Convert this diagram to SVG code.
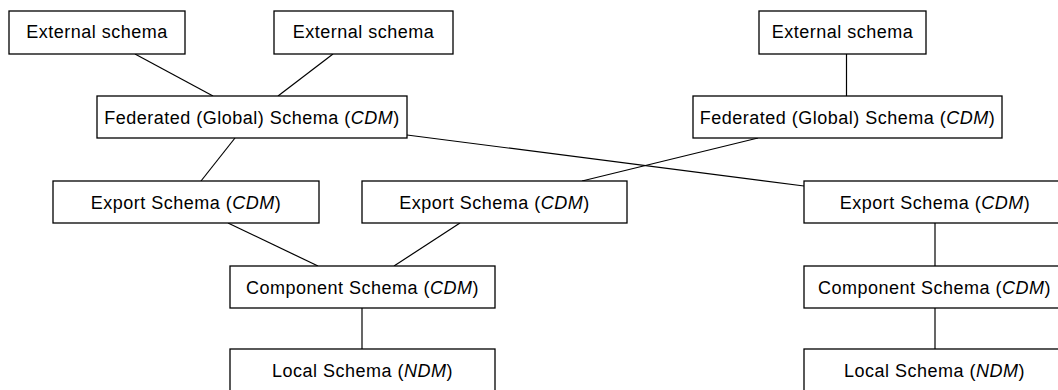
<svg xmlns="http://www.w3.org/2000/svg" width="1058" height="390" viewBox="0 0 1058 390">
<style>
.box{fill:#fff;stroke:#000;stroke-width:1.3}
.t{font-family:"Liberation Sans",Arial,sans-serif;font-size:18px;letter-spacing:0.5px;fill:#000;text-anchor:middle}
.i{font-style:italic}
.c line{stroke:#000;stroke-width:1.2}
</style>
<rect width="1058" height="390" fill="#fff"/>
<g class="c" id="connectors">
<line x1="135" y1="54" x2="213" y2="96"/>
<line x1="333" y1="54" x2="278" y2="96"/>
<line x1="846.5" y1="54" x2="846.5" y2="96"/>
<line x1="235" y1="138" x2="201" y2="181"/>
<line x1="407" y1="135" x2="804" y2="186"/>
<line x1="758" y1="138" x2="582" y2="181"/>
<line x1="228" y1="223" x2="318" y2="266"/>
<line x1="460" y1="223" x2="394" y2="266"/>
<line x1="362" y1="308" x2="362" y2="349"/>
<line x1="935" y1="223" x2="935" y2="266"/>
<line x1="935" y1="308" x2="935" y2="349"/>
</g>
<g id="ext1"><rect class="box" x="9" y="11" width="176" height="43"/><text class="t" x="97" y="38">External schema</text></g>
<g id="ext2"><rect class="box" x="274" y="11" width="179" height="43"/><text class="t" x="363.5" y="38">External schema</text></g>
<g id="ext3"><rect class="box" x="759" y="11" width="167" height="43"/><text class="t" x="842.5" y="38">External schema</text></g>
<g id="fed1"><rect class="box" x="97" y="96" width="310" height="42"/><text class="t" x="252" y="123.5">Federated (Global) Schema (<tspan class="i">CDM</tspan>)</text></g>
<g id="fed2"><rect class="box" x="693" y="96" width="309" height="42"/><text class="t" x="847.5" y="123.5">Federated (Global) Schema (<tspan class="i">CDM</tspan>)</text></g>
<g id="exp1"><rect class="box" x="53" y="181" width="266" height="42"/><text class="t" x="186" y="208.5">Export Schema (<tspan class="i">CDM</tspan>)</text></g>
<g id="exp2"><rect class="box" x="362" y="181" width="265" height="42"/><text class="t" x="494.5" y="208.5">Export Schema (<tspan class="i">CDM</tspan>)</text></g>
<g id="exp3"><rect class="box" x="804" y="181" width="266" height="42"/><text class="t" x="935" y="208.5">Export Schema (<tspan class="i">CDM</tspan>)</text></g>
<g id="comp1"><rect class="box" x="230" y="266" width="265" height="42"/><text class="t" x="362.5" y="293.5">Component Schema (<tspan class="i">CDM</tspan>)</text></g>
<g id="comp2"><rect class="box" x="804" y="266" width="266" height="42"/><text class="t" x="934.5" y="293.5">Component Schema (<tspan class="i">CDM</tspan>)</text></g>
<g id="local1"><rect class="box" x="230" y="349" width="265" height="42"/><text class="t" x="362.5" y="376.5">Local Schema (<tspan class="i">NDM</tspan>)</text></g>
<g id="local2"><rect class="box" x="804" y="349" width="266" height="42"/><text class="t" x="934.5" y="376.5">Local Schema (<tspan class="i">NDM</tspan>)</text></g>
</svg>
